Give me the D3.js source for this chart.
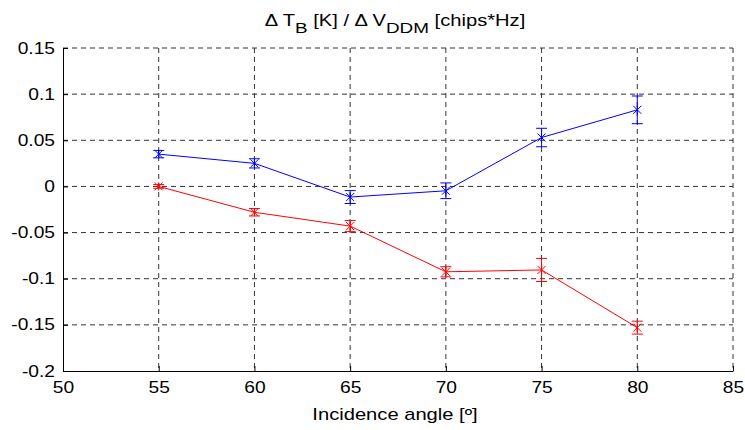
<!DOCTYPE html>
<html>
<head>
<meta charset="utf-8">
<script src="https://cdn.jsdelivr.net/npm/d3@7"></script>
<style>
  body { margin: 0; background: #fff; }
  text { font-family: "Liberation Sans", Arial, sans-serif; fill: #000; }
</style>
</head>
<body>
<div id="chart"></div>
<script>
// data
var angles = [55, 60, 65, 70, 75, 80];
var blueVals = [0.035, 0.025, -0.0115, -0.0047, 0.053, 0.083];
var blueErr  = [0.004, 0.005, 0.007, 0.0085, 0.01, 0.015];
var redVals  = [0.0, -0.028, -0.043, -0.0925, -0.0905, -0.153];
var redErr   = [0.002, 0.004, 0.006, 0.0055, 0.0125, 0.007];
var xTicks = [50, 55, 60, 65, 70, 75, 80, 85];
var yTicks = [-0.2, -0.15, -0.1, -0.05, 0, 0.05, 0.1, 0.15];

var W = 745, H = 430;
var margin = {top: 48, right: 12, bottom: 59, left: 63},
    width = W - margin.left - margin.right,
    height = H - margin.top - margin.bottom;
var stretch = 1.2;   // text in the reference is drawn a bit wide

var svg = d3.select("#chart").append("svg")
    .attr("width", W).attr("height", H);
var g = svg.append("g")
    .attr("transform", "translate(" + margin.left + "," + margin.top + ")");

var x = d3.scaleLinear().domain([50, 85]).range([0, width]);
var y = d3.scaleLinear().domain([-0.2, 0.15]).range([height, 0]);

// dashed grid
g.selectAll(".vgrid").data(xTicks.slice(1)).enter().append("line")
    .attr("x1", function(d) { return x(d); }).attr("x2", function(d) { return x(d); })
    .attr("y1", 0).attr("y2", height)
    .attr("stroke", "#333").attr("stroke-width", 1).attr("stroke-dasharray", "5,4");
g.selectAll(".hgrid").data(yTicks.slice(1)).enter().append("line")
    .attr("x1", 0).attr("x2", width)
    .attr("y1", function(d) { return y(d); }).attr("y2", function(d) { return y(d); })
    .attr("stroke", "#333").attr("stroke-width", 1).attr("stroke-dasharray", "5,4");

// axes (ticks inside)
var fmt = function(d) { return String(+d.toFixed(2)); };
var xAxis = g.append("g").attr("transform", "translate(0," + height + ")")
    .call(d3.axisBottom(x).tickValues(xTicks).tickSizeInner(-5).tickSizeOuter(0).tickPadding(11).tickFormat(fmt));
var yAxis = g.append("g")
    .call(d3.axisLeft(y).tickValues(yTicks).tickSizeInner(-5).tickSizeOuter(0).tickPadding(8).tickFormat(fmt));
[xAxis, yAxis].forEach(function(a) {
    a.selectAll("text").style("font-size", "16px").attr("font-family", null)
        .attr("transform", "scale(" + stretch + ",1)");
    a.select(".domain").attr("stroke", "#000");
    a.selectAll(".tick line").attr("stroke", "#000");
});
xAxis.selectAll("text").attr("dy", "0.71em");
yAxis.selectAll("text").attr("x", -8 / stretch);

function series(vals, errs, color) {
    var pts = angles.map(function(a, i) { return {a: a, v: vals[i], e: errs[i]}; });
    var line = d3.line().x(function(d) { return x(d.a); }).y(function(d) { return y(d.v); });
    g.append("path").datum(pts).attr("d", line)
        .attr("fill", "none").attr("stroke", color).attr("stroke-width", 1);
    var cap = 5.5;
    var eb = g.selectAll(null).data(pts).enter().append("g").attr("stroke", color).attr("stroke-width", 1);
    eb.append("line")
        .attr("x1", function(d) { return x(d.a); }).attr("x2", function(d) { return x(d.a); })
        .attr("y1", function(d) { return y(d.v + d.e); }).attr("y2", function(d) { return y(d.v - d.e); });
    eb.append("line")
        .attr("x1", function(d) { return x(d.a) - cap; }).attr("x2", function(d) { return x(d.a) + cap; })
        .attr("y1", function(d) { return y(d.v + d.e); }).attr("y2", function(d) { return y(d.v + d.e); });
    eb.append("line")
        .attr("x1", function(d) { return x(d.a) - cap; }).attr("x2", function(d) { return x(d.a) + cap; })
        .attr("y1", function(d) { return y(d.v - d.e); }).attr("y2", function(d) { return y(d.v - d.e); });
    // asterisk markers
    var m = 4;
    eb.append("path")
        .attr("d", function(d) {
            var cx = x(d.a), cy = y(d.v);
            return "M" + (cx - m) + "," + (cy - m) + "L" + (cx + m) + "," + (cy + m) +
                   "M" + (cx - m) + "," + (cy + m) + "L" + (cx + m) + "," + (cy - m) +
                   "M" + cx + "," + (cy - m) + "L" + cx + "," + (cy + m);
        })
        .attr("fill", "none");
}
series(blueVals, blueErr, "#0000ff");
series(redVals, redErr, "#ff0000");

// title
var title = svg.append("g").attr("transform", "translate(395,26)")
  .append("text").attr("text-anchor", "middle").style("font-size", "16px")
    .attr("transform", "scale(1.26,1)");
title.append("tspan").text("\u0394 T");
title.append("tspan").attr("dy", 7).style("font-size", "15px").text("B");
title.append("tspan").attr("dy", -7).text(" [K] / \u0394 V");
title.append("tspan").attr("dy", 7).style("font-size", "15px").text("DDM");
title.append("tspan").attr("dy", -7).text(" [chips*Hz]");

// x label
svg.append("g").attr("transform", "translate(395,420)")
  .append("text").attr("text-anchor", "middle").style("font-size", "16px")
    .attr("transform", "scale(1.26,1)")
    .text("Incidence angle [\u00ba]");
</script>
</body>
</html>
